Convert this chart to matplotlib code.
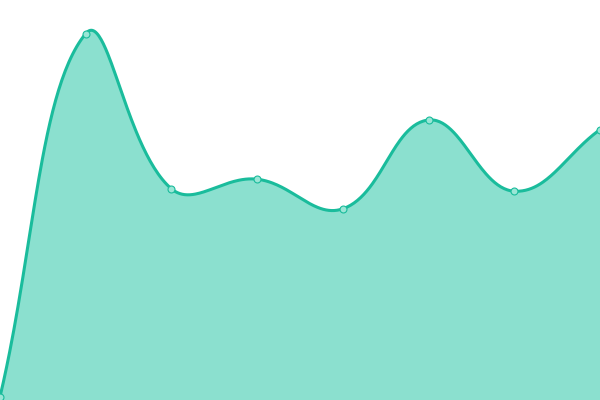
import numpy as np
import matplotlib
matplotlib.use("Agg")
import matplotlib.pyplot as plt

categories = ["A", "B", "C", "D", "E", "F", "G", "H"]
values = [0.8, 91.6, 52.8, 55.2, 47.8, 70.0, 52.2, 67.6]

LINE = "#1abc9c"
FILL = "#8be0cf"
W, H = 600.0, 400.0
YMAX = 100.0

def spline_px(vals, tension=0.4, n=60):
    xs = np.arange(len(vals)) * W / (len(vals) - 1)
    ys = H - np.asarray(vals, float) / YMAX * H
    pts = np.column_stack([xs, ys])
    m = len(pts)
    cp_prev = np.zeros_like(pts); cp_next = np.zeros_like(pts)
    for i in range(m):
        prev = pts[max(i - 1, 0)]; cur = pts[i]; nxt = pts[min(i + 1, m - 1)]
        d01 = np.hypot(*(cur - prev)); d12 = np.hypot(*(nxt - cur))
        s01 = d01 / (d01 + d12) if d01 + d12 else 0
        s12 = d12 / (d01 + d12) if d01 + d12 else 0
        fa = tension * s01; fb = tension * s12
        cp_prev[i] = cur - fa * (nxt - prev)
        cp_next[i] = cur + fb * (nxt - prev)
    cp_prev[:, 1] = np.clip(cp_prev[:, 1], 0, H); cp_next[:, 1] = np.clip(cp_next[:, 1], 0, H)
    cp_prev[:, 0] = np.clip(cp_prev[:, 0], 0, W); cp_next[:, 0] = np.clip(cp_next[:, 0], 0, W)
    t = np.linspace(0, 1, n)[:, None]
    segs = []
    for i in range(m - 1):
        p0, p1, p2, p3 = pts[i], cp_next[i], cp_prev[i + 1], pts[i + 1]
        segs.append((1 - t) ** 3 * p0 + 3 * (1 - t) ** 2 * t * p1 + 3 * (1 - t) * t ** 2 * p2 + t ** 3 * p3)
    c = np.vstack(segs)
    cx = c[:, 0] / W * (len(vals) - 1)
    cy = (H - c[:, 1]) / H * YMAX
    return cx, cy

xi = np.arange(len(categories))
sx, sy = spline_px(values)

fig = plt.figure(figsize=(6, 4), dpi=100)
ax = fig.add_axes([0, 0, 1, 1])
ax.fill_between(sx, sy, 0, color=FILL, linewidth=0)
ax.plot(sx, sy, color=LINE, linewidth=2.2, solid_capstyle="round")
ax.plot(xi, values, "o", markersize=5, markerfacecolor="#9ae6d6", markeredgecolor=LINE, markeredgewidth=0.8, clip_on=False)
ax.set_xlim(0, len(categories) - 1)
ax.set_ylim(0, YMAX)
ax.axis("off")
fig.savefig("out.png", dpi=100)
